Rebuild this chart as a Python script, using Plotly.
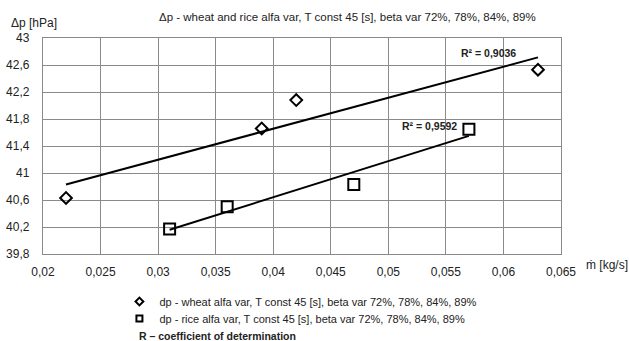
import numpy as np
import plotly.graph_objects as go

# ---- data ----
wheat_x = [0.022, 0.039, 0.042, 0.063]
wheat_y = [40.63, 41.66, 42.08, 42.53]
rice_x = [0.031, 0.036, 0.047, 0.057]
rice_y = [40.17, 40.50, 40.83, 41.65]

wheat_name = "dp - wheat alfa var, T const 45 [s], beta var 72%, 78%, 84%, 89%"
rice_name = "dp - rice alfa var, T const 45 [s], beta var 72%, 78%, 84%, 89%"
wheat_r2 = "R² = 0,9036"
rice_r2 = "R² = 0,9592"

x_tickvals = [0.02, 0.025, 0.03, 0.035, 0.04, 0.045, 0.05, 0.055, 0.06, 0.065]
x_ticktext = ["0,02", "0,025", "0,03", "0,035", "0,04", "0,045", "0,05", "0,055", "0,06", "0,065"]
y_tickvals = [39.8, 40.2, 40.6, 41.0, 41.4, 41.8, 42.2, 42.6, 43.0]
y_ticktext = ["39,8", "40,2", "40,6", "41", "41,4", "41,8", "42,2", "42,6", "43"]

FONT = "Liberation Sans Narrow, Liberation Sans, Arial, sans-serif"
TXT = "#222222"
GRID = "#8a8a8a"

fig = go.Figure()

def trend(xs, ys):
    k, b = np.polyfit(xs, ys, 1)
    xe = [min(xs), max(xs)]
    return xe, [k * v + b for v in xe]

for xs, ys in [(wheat_x, wheat_y), (rice_x, rice_y)]:
    tx, ty = trend(xs, ys)
    fig.add_trace(go.Scatter(x=tx, y=ty, mode="lines", showlegend=False,
                             line=dict(color="black", width=2), hoverinfo="skip"))

fig.add_trace(go.Scatter(x=wheat_x, y=wheat_y, mode="markers", showlegend=False,
                         marker=dict(symbol="diamond-open", size=9, color="black",
                                     line=dict(width=2, color="black"))))
fig.add_trace(go.Scatter(x=rice_x, y=rice_y, mode="markers", showlegend=False,
                         marker=dict(symbol="square-open", size=11, color="black",
                                     line=dict(width=2, color="black"))))

# legend entries (smaller symbols, as in the reference), one legend each
fig.add_trace(go.Scatter(x=[None], y=[None], mode="markers", name=wheat_name, legend="legend",
                         marker=dict(symbol="diamond-open", size=6, color="black",
                                     line=dict(width=2, color="black"))))
fig.add_trace(go.Scatter(x=[None], y=[None], mode="markers", name=rice_name, legend="legend2",
                         marker=dict(symbol="square-open", size=6, color="black",
                                     line=dict(width=2, color="black"))))

L, R, T, B = 42.5, 561, 38, 254
W, H = R - L, B - T

def px(x):
    return (x - L) / W

def py(y):
    return (B - y) / H

ann = [
    dict(text="Δp - wheat and rice alfa var, T const 45 [s], beta var 72%, 78%, 84%, 89%",
         x=px(347), y=py(17), font=dict(size=11.5)),
    dict(text="Δp [hPa]", x=px(33.5), y=py(23), font=dict(size=12, family="Liberation Sans, Arial")),
    dict(text="ṁ [kg/s]", x=px(607), y=py(265), font=dict(size=12)),
    dict(text="<b>" + wheat_r2 + "</b>", x=px(488), y=py(52.7), font=dict(size=10.5)),
    dict(text="<b>" + rice_r2 + "</b>", x=px(429), y=py(125.7), font=dict(size=10.5)),
    dict(text="<b>R – coefficient of determination</b>", x=px(137), y=py(336), xanchor="left",
         font=dict(size=10.5, family="Liberation Sans, Arial")),
]
for a in ann:
    a.setdefault("xanchor", "center")
    fig.add_annotation(xref="paper", yref="paper", showarrow=False, yanchor="middle",
                       **{k: v for k, v in a.items() if k != "font"},
                       font=dict(color=TXT, family=a["font"].get("family", FONT), size=a["font"]["size"]))

leg_common = dict(xanchor="left", yanchor="top",
                  font=dict(size=11, color=TXT, family=FONT),
                  bgcolor="rgba(0,0,0,0)", borderwidth=0)

fig.update_layout(
    width=629, height=341,
    margin=dict(l=L, r=629 - R, t=T, b=341 - B, pad=0, autoexpand=False),
    paper_bgcolor="white", plot_bgcolor="white",
    font=dict(family=FONT, size=12, color=TXT),
    showlegend=True,
    legend=dict(x=px(119), y=py(287), **leg_common),
    legend2=dict(x=px(119), y=py(304), **leg_common),
)
fig.update_xaxes(range=[0.02, 0.065], tickvals=x_tickvals, ticktext=x_ticktext,
                 showgrid=True, gridcolor=GRID, gridwidth=1.3,
                 showline=True, linecolor=GRID, linewidth=1.3, mirror=True,
                 zeroline=False, ticks="", ticklabelstandoff=6,
                 tickfont=dict(size=12, color=TXT))
fig.update_yaxes(range=[39.8, 43], tickvals=y_tickvals, ticktext=y_ticktext,
                 showgrid=True, gridcolor=GRID, gridwidth=1.3,
                 showline=True, linecolor=GRID, linewidth=1.3, mirror=True,
                 zeroline=False, ticks="", ticklabelstandoff=10,
                 tickfont=dict(size=12, color=TXT))

fig.write_html("out.html")
